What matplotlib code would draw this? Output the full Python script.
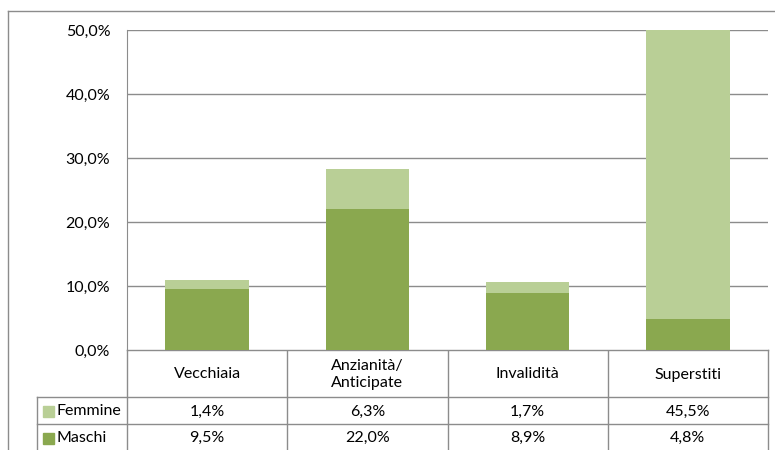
import matplotlib
matplotlib.use('Agg')
import matplotlib.pyplot as plt
import numpy as np

# Pensioni per categoria e sesso (quote percentuali)
categorie = ['Vecchiaia', 'Anzianità/\nAnticipate', 'Invalidità', 'Superstiti']
maschi = [9.5, 22.0, 8.9, 4.8]
femmine = [1.4, 6.3, 1.7, 45.5]
serie = ['Femmine', 'Maschi']

col_maschi = '#8aa84f'
col_femmine = '#b9cf96'
col_linee = '#8c8c8c'

plt.rcParams['font.family'] = ['Lato', 'DejaVu Sans']
W, H = 775, 450
fig = plt.figure(figsize=(W / 100, H / 100), dpi=100)

# area del grafico in pixel
x0, x1, y0, y1 = 127, 768, 30, 350
ax = fig.add_axes([x0 / W, 1 - y1 / H, (x1 - x0) / W, (y1 - y0) / H])
x = np.arange(len(categorie))
ax.bar(x, maschi, width=0.52, color=col_maschi, zorder=3)
ax.bar(x, femmine, width=0.52, bottom=maschi, color=col_femmine, zorder=3)
ax.set_xlim(-0.5, len(categorie) - 0.5)
ax.set_ylim(0, 50)
ax.set_yticks(np.arange(0, 51, 10))
ax.set_yticklabels([('%.1f%%' % v).replace('.', ',') for v in np.arange(0, 51, 10)])
ax.tick_params(axis='y', length=0, pad=12, labelsize=11.5)
ax.set_xticks([])
ax.grid(axis='y', color=col_linee, linewidth=1, zorder=0)
for s in ['top', 'right', 'bottom']:
    ax.spines[s].set_visible(False)
ax.spines['left'].set_color(col_linee)

# tabella dati sotto il grafico, disegnata in coordinate pixel
ov = fig.add_axes([0, 0, 1, 1], zorder=-1)
ov.set_xlim(0, W)
ov.set_ylim(H, 0)
ov.axis('off')
ov.patch.set_alpha(0)

lw = 1
# cornice esterna
ov.plot([8, 8], [11, H], color=col_linee, lw=lw)
ov.plot([8, W], [11, 11], color=col_linee, lw=lw)

r_head, r_f, r_m, r_end = 350, 397, 424, 451
colw = (x1 - x0) / len(categorie)
ov.plot([x0, x1], [r_head, r_head], color=col_linee, lw=lw)
for yy in [r_f, r_m]:
    ov.plot([37, x1], [yy, yy], color=col_linee, lw=lw)
ov.plot([37, 37], [r_f, r_end], color=col_linee, lw=lw)
for i in range(len(categorie) + 1):
    xx = x0 + i * colw
    ov.plot([xx, xx], [r_head, r_end], color=col_linee, lw=lw)

fs = 11.5
for i, c in enumerate(categorie):
    cx = x0 + (i + 0.5) * colw
    ov.text(cx, (r_head + r_f) / 2 + 1, c, ha='center', va='center', fontsize=fs,
            linespacing=1.35)
    ov.text(cx, (r_f + r_m) / 2 + 1, ('%.1f%%' % femmine[i]).replace('.', ','),
            ha='center', va='center', fontsize=fs)
    ov.text(cx, (r_m + r_end) / 2, ('%.1f%%' % maschi[i]).replace('.', ','),
            ha='center', va='center', fontsize=fs)

for nome, col, ya, yb in [(serie[0], col_femmine, r_f, r_m), (serie[1], col_maschi, r_m, r_end)]:
    ym = (ya + yb) / 2
    ov.add_patch(plt.Rectangle((43, ym - 5), 11, 11, color=col))
    ov.text(57, ym + 0.5, nome, ha='left', va='center', fontsize=fs)

fig.savefig('out.png', dpi=100)
